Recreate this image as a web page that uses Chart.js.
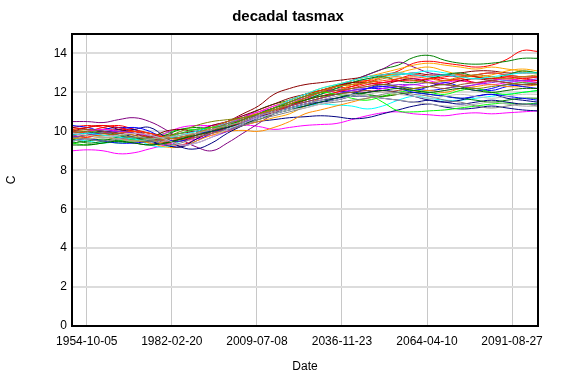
<!DOCTYPE html>
<html><head><meta charset="utf-8">
<script src="https://cdn.jsdelivr.net/npm/chart.js@4/dist/chart.umd.min.js"></script>
<style>html,body{margin:0;padding:0;background:#fff}canvas{display:block}</style>
</head><body>
<canvas id="c" width="576" height="384"></canvas>
<script>
const years = [1950,1955,1960,1965,1970,1975,1980,1985,1990,1995,2000,2005,2010,2015,2020,2025,2030,2035,2040,2045,2050,2055,2060,2065,2070,2075,2080,2085,2090,2095,2100];
const tickDates = ['1954-10-05','1982-02-20','2009-07-08','2036-11-23','2064-04-10','2091-08-27'];
const yTicks = [0,2,4,6,8,10,12,14];

const sRed = [10.2,10.3,10.2,10.0,9.9,9.7,9.4,9.3,9.6,10.0,10.4,10.7,10.9,11.2,11.5,11.8,12.0,12.2,12.3,12.5,12.8,13.1,13.5,13.6,13.5,13.4,13.3,13.4,13.7,14.15,14.1];
const sGreen = [9.8,9.9,10.0,9.8,9.6,9.5,9.6,9.7,9.8,10.0,10.3,10.7,11.1,11.4,11.6,11.9,12.1,12.35,12.6,12.9,13.2,13.4,13.8,13.9,13.65,13.5,13.45,13.5,13.6,13.75,13.75];
const sBlue = [9.9,10.0,10.1,10.2,10.1,9.7,9.3,9.2,9.5,9.9,10.2,10.5,10.8,11.0,11.3,11.5,11.7,11.9,12.1,12.2,12.2,12.3,12.2,12.1,12.2,12.3,12.2,12.1,12.3,12.4,12.5];
const sCyan = [9.6,9.5,9.4,9.5,9.6,9.3,9.2,9.5,9.8,10.0,10.2,10.5,10.8,11.0,11.2,11.3,11.4,11.35,11.3,11.15,11.3,11.6,11.8,11.7,11.6,11.6,11.7,11.8,11.9,12.0,12.1];
const sMagenta = [9.0,9.05,9.0,8.85,8.9,9.1,9.3,9.5,9.6,9.8,10.0,10.3,10.25,10.1,10.2,10.3,10.35,10.4,10.6,10.8,10.95,11.0,10.9,10.85,10.8,10.9,10.95,10.9,10.95,11.0,11.05];
const sPink = [9.7,9.8,9.9,9.7,9.5,9.6,9.9,10.2,10.3,10.3,10.4,10.7,11.0,11.2,11.5,11.7,11.8,12.0,12.1,12.0,12.2,12.3,12.4,12.3,12.5,12.6,12.5,12.4,12.5,12.6,12.6];
const sPurple = [10.5,10.5,10.45,10.6,10.7,10.5,10.1,9.6,9.2,9.0,9.4,9.9,10.4,10.9,11.3,11.7,12.0,12.3,12.6,12.9,13.2,13.55,13.3,13.0,12.9,12.8,12.9,13.0,12.9,12.8,12.8];
const sDarkRed = [10.2,10.1,10.0,9.9,10.0,9.9,9.8,9.9,10.0,10.2,10.5,10.9,11.3,11.9,12.2,12.4,12.5,12.6,12.7,12.8,12.9,12.9,13.0,12.9,12.9,13.0,13.1,13.1,13.0,13.0,13.0];
const sOrange = [9.7,9.6,9.7,9.6,9.5,9.4,9.2,9.2,9.5,9.8,10.0,10.3,10.5,10.7,10.9,11.3,11.7,12.0,12.4,12.6,12.8,13.0,13.2,13.3,13.1,12.9,12.8,12.9,13.1,13.2,13.1];
const sOrange2 = [9.6,9.7,9.8,9.7,9.6,9.5,9.4,9.5,9.7,9.9,10.0,10.05,10.0,10.2,10.5,10.9,11.1,11.3,11.5,11.7,11.8,11.9,12.0,12.1,12.0,12.2,12.3,12.4,12.3,12.3,12.4];
const sOlive = [9.9,10.0,9.9,9.8,9.7,9.6,9.7,10.0,10.3,10.5,10.6,10.7,10.9,11.2,11.5,11.8,12.0,12.1,12.2,12.3,12.4,12.3,12.2,12.3,12.4,12.3,12.2,12.3,12.4,12.5,12.4];
const sGray = [9.5,9.6,9.7,9.6,9.5,9.6,9.7,9.8,9.9,10.1,10.3,10.5,10.8,11.0,11.2,11.4,11.6,11.8,11.9,11.8,11.7,11.6,11.5,11.4,11.3,11.3,11.4,11.5,11.4,11.3,11.3];
const sNavy = [9.8,9.9,9.9,9.8,9.6,9.4,9.4,9.5,9.7,9.9,10.1,10.3,10.5,10.6,10.7,10.75,10.8,10.75,10.65,10.7,10.9,11.1,11.3,11.4,11.25,11.15,11.2,11.3,11.2,11.1,11.05];
const sLime = [9.4,9.3,9.4,9.5,9.6,9.7,9.9,10.1,10.1,10.2,10.4,10.6,10.9,11.1,11.4,11.6,11.8,11.9,11.8,11.9,11.5,11.05,11.0,11.05,11.1,11.2,11.3,11.4,11.45,11.4,11.45];
const sDarkGreen = [9.3,9.3,9.4,9.5,9.4,9.3,9.4,9.6,9.8,10.0,10.2,10.4,10.6,10.9,11.1,11.3,11.5,11.7,11.9,12.0,12.1,12.2,12.1,12.0,12.1,12.2,12.1,12.0,12.1,12.2,12.2];
const sSienna = [10.0,10.1,10.0,9.9,9.8,9.7,9.6,9.7,9.9,10.1,10.4,10.6,10.9,11.1,11.3,11.5,11.7,11.9,12.0,12.1,12.0,12.1,12.2,12.3,12.2,12.4,12.5,12.6,12.5,12.4,12.5];
const sRed2 = [10.1,10.2,10.3,10.2,10.0,9.8,9.7,9.6,9.7,9.9,10.2,10.5,10.8,11.0,11.3,11.6,11.8,12.0,12.2,12.4,12.5,12.6,12.6,12.7,12.8,12.9,12.8,12.7,12.8,12.7,12.8];
const sBlue2 = [9.5,9.6,9.5,9.4,9.4,9.5,9.6,9.7,9.9,10.0,10.2,10.4,10.7,10.9,11.1,11.3,11.5,11.7,11.9,12.2,12.3,12.2,12.0,11.9,11.8,11.7,11.8,11.9,11.8,11.7,11.6];
const sCyan2 = [9.8,9.9,9.8,9.7,9.6,9.5,9.6,9.8,10.0,10.2,10.4,10.6,10.9,11.2,11.6,11.9,12.2,12.4,12.6,12.8,12.9,13.0,12.9,12.8,12.9,12.8,12.7,12.8,12.9,13.0,13.0];
const sGreen2 = [9.4,9.5,9.6,9.5,9.4,9.3,9.4,9.6,9.9,10.1,10.3,10.6,10.9,11.2,11.4,11.6,11.8,11.9,12.0,11.9,11.8,11.9,12.0,11.9,11.8,11.7,11.6,11.5,11.6,11.7,11.7];
const sSilver = [9.9,9.8,9.7,9.8,9.9,9.8,9.6,9.3,9.4,9.7,10.1,10.4,10.7,10.9,11.1,11.2,11.4,11.6,11.8,11.9,12.0,11.9,11.8,11.7,11.8,11.9,11.8,11.7,11.8,11.9,11.9];
const sOrangeRed = [10.0,9.9,9.8,9.9,10.0,9.9,9.7,9.6,9.8,10.0,10.3,10.6,10.9,11.2,11.6,11.9,12.1,12.3,12.4,12.5,12.6,12.7,12.8,12.7,12.6,12.7,12.9,13.0,12.9,12.8,12.8];
const sViolet = [9.7,9.8,9.9,10.0,9.9,9.8,9.6,9.3,9.4,9.7,10.0,10.4,10.8,11.1,11.3,11.5,11.7,11.9,12.1,12.2,12.3,12.4,12.4,12.5,12.4,12.3,12.4,12.5,12.6,12.6,12.7];
const sDarkBlue = [10.0,9.9,9.9,10.0,10.1,10.2,9.7,9.2,9.1,9.4,9.9,10.3,10.7,11.0,11.2,11.4,11.6,11.7,11.8,11.8,11.7,11.6,11.5,11.6,11.5,11.4,11.5,11.6,11.5,11.4,11.4];
const sRed3 = [9.8,9.7,9.9,10.1,10.0,9.7,9.5,9.6,9.9,10.1,10.3,10.6,10.9,11.1,11.4,11.7,12.0,12.3,12.5,12.6,12.5,12.7,12.9,12.8,12.6,12.7,12.5,12.6,12.8,12.7,12.6];
const sBlue3 = [10.3,10.2,10.0,10.1,10.2,10.0,9.6,9.5,9.8,10.0,10.1,10.4,10.9,11.2,11.5,11.8,12.0,12.1,12.0,12.2,12.4,12.3,12.1,12.3,12.5,12.3,12.1,12.2,12.4,12.3,12.2];
const sGreen3 = [9.6,9.4,9.5,9.7,9.6,9.6,9.8,10.1,10.2,10.2,10.3,10.5,10.8,11.1,11.3,11.6,11.9,12.2,12.5,12.7,12.8,12.6,12.5,12.7,12.9,13.0,12.8,12.7,12.9,13.1,13.0];
const sOrange3 = [10.1,10.0,10.1,10.0,9.8,9.5,9.6,9.8,9.9,10.0,10.2,10.6,11.0,11.3,11.6,11.9,12.2,12.4,12.6,12.8,13.0,13.2,13.4,13.5,13.4,13.3,13.2,13.3,13.2,13.1,13.0];
const sCyan3 = [9.9,10.0,9.9,9.8,9.7,9.6,9.5,9.6,9.8,10.1,10.4,10.7,10.9,11.2,11.5,11.7,11.9,12.2,12.5,12.7,12.8,12.9,13.0,13.1,13.0,12.9,12.8,12.7,12.6,12.5,12.5];
const sMagenta3 = [9.9,10.0,10.1,10.0,9.9,9.8,9.7,9.9,10.1,10.3,10.5,10.8,11.0,11.3,11.5,11.8,12.0,12.1,12.2,12.3,12.5,12.6,12.7,12.6,12.4,12.3,12.4,12.6,12.7,12.6,12.5];
const sGray3 = [9.7,9.6,9.5,9.6,9.7,9.6,9.3,9.4,9.7,9.9,10.1,10.3,10.6,10.8,11.0,11.2,11.4,11.5,11.6,11.7,11.9,12.0,11.9,11.8,11.6,11.5,11.3,11.2,11.3,11.4,11.3];
const sMaroon2 = [10.0,10.2,10.3,10.1,9.9,9.7,10.0,10.1,10.0,10.3,10.5,10.8,11.1,11.4,11.7,11.9,12.1,12.3,12.5,12.5,12.4,12.6,12.7,12.5,12.4,12.6,12.7,12.6,12.5,12.4,12.4];
const sLime2 = [9.5,9.6,9.5,9.4,9.5,9.6,9.7,9.9,10.1,10.2,10.3,10.6,10.9,11.2,11.5,11.8,12.0,11.9,11.7,11.6,11.8,12.0,12.1,12.0,11.9,12.1,12.2,12.0,11.9,12.0,12.1];
const sNavy3 = [9.7,9.8,10.0,9.9,9.7,9.5,9.3,9.2,9.6,10.0,10.2,10.5,10.8,11.0,11.2,11.4,11.5,11.6,11.8,12.0,12.1,12.0,11.8,11.6,11.5,11.6,11.8,11.9,11.7,11.6,11.5];
const sGold = [9.6,9.8,9.7,9.6,9.5,9.5,9.6,9.7,9.9,10.2,10.5,10.7,10.9,11.1,11.4,11.7,12.0,12.3,12.4,12.5,12.7,12.8,12.6,12.5,12.6,12.8,12.9,12.8,12.7,12.8,12.9];
const sRed4 = [9.9,10.0,10.2,10.3,10.1,9.9,9.7,9.6,9.8,10.0,10.2,10.4,10.7,11.0,11.3,11.6,11.9,12.1,12.3,12.6,12.9,13.0,12.9,12.8,12.7,12.6,12.5,12.6,12.7,12.6,12.5];

const seriesList = [
  ['#a9a9a9', sGray], ['#c0c0c0', sSilver], ['#808080', sGray3], ['#006400', sDarkGreen], ['#808000', sOlive],
  ['#b8860b', sGold], ['#a0522d', sSienna], ['#0000ff', sBlue2], ['#008000', sGreen2], ['#00ff00', sLime2],
  ['#00ffff', sCyan2], ['#8a2be2', sViolet], ['#ff4500', sOrangeRed], ['#ff0000', sRed2], ['#000080', sNavy3],
  ['#800000', sMaroon2], ['#ff00ff', sMagenta3], ['#0000ff', sBlue3], ['#008000', sGreen3], ['#ff0000', sRed3],
  ['#000080', sDarkBlue], ['#ff8c00', sOrange2], ['#ffa500', sOrange], ['#ffa500', sOrange3], ['#ff00ff', sPink],
  ['#00ffff', sCyan3], ['#ff0000', sRed4], ['#00ff00', sLime], ['#00ffff', sCyan], ['#0000ff', sBlue],
  ['#8b0000', sDarkRed], ['#800080', sPurple], ['#000080', sNavy], ['#ff00ff', sMagenta], ['#008000', sGreen], ['#ff0000', sRed]
];

const DAY = 864e5;
const dayOfYear = y => Date.UTC(y, 0, 1) / DAY;
const dayOfDate = s => Date.parse(s + 'T00:00:00Z') / DAY;
const tickValues = tickDates.map(dayOfDate);
const fmt = v => new Date(Math.round(v) * DAY).toISOString().slice(0, 10);

const datasets = seriesList.map(([col, vals]) => ({
  data: years.map((y, i) => ({ x: dayOfYear(y), y: vals[i] })),
  borderColor: col,
  borderWidth: 1,
  pointRadius: 0,
  tension: 0.4,
  fill: false
}));

const frame = {
  id: 'frame',
  afterDraw(chart) {
    const a = chart.chartArea, ctx = chart.ctx;
    ctx.save();
    ctx.strokeStyle = '#000';
    ctx.lineWidth = 2;
    ctx.strokeRect(a.left, a.top, a.right - a.left, a.bottom - a.top);
    ctx.restore();
  }
};

const F = 'Liberation Sans, Arial, sans-serif';
new Chart(document.getElementById('c'), {
  type: 'line',
  data: { datasets },
  plugins: [frame],
  options: {
    responsive: false,
    animation: false,
    devicePixelRatio: 1,
    layout: { padding: 0 },
    plugins: {
      legend: { display: false },
      tooltip: { enabled: false },
      title: {
        display: true, text: 'decadal tasmax', color: '#000',
        font: { family: F, size: 15, weight: 'bold' },
        padding: { top: 7.5, bottom: 8.5 }
      }
    },
    scales: {
      x: {
        type: 'linear',
        min: dayOfYear(1950), max: dayOfYear(2100),
        afterBuildTicks: s => { s.ticks = tickValues.map(v => ({ value: v })); },
        afterFit: s => { s.height = 58; },
        ticks: { callback: v => fmt(v), color: '#000', font: { family: F, size: 12 }, maxRotation: 0, autoSkip: false, padding: 8 },
        grid: { color: '#c8c8c8', lineWidth: 1, drawTicks: false },
        border: { display: false },
        title: { display: true, text: 'Date', color: '#000', font: { family: F, size: 12 }, padding: { top: 4, bottom: 10 } }
      },
      y: {
        min: 0, max: 15,
        afterBuildTicks: s => { s.ticks = yTicks.map(v => ({ value: v })); },
        afterFit: s => { s.width = 72; },
        ticks: { color: '#000', font: { family: F, size: 12 }, padding: 5 },
        grid: { color: '#dcdcdc', lineWidth: 2, drawTicks: false },
        border: { display: false },
        title: { display: true, text: 'C', color: '#000', font: { family: F, size: 12 }, padding: { top: 4, bottom: 0 } }
      },
      yRight: {
        type: 'linear', position: 'right', display: true,
        afterFit: s => { s.width = 38; },
        ticks: { display: false },
        grid: { display: false, drawTicks: false },
        border: { display: false }
      }
    }
  }
});
</script>
</body></html>
